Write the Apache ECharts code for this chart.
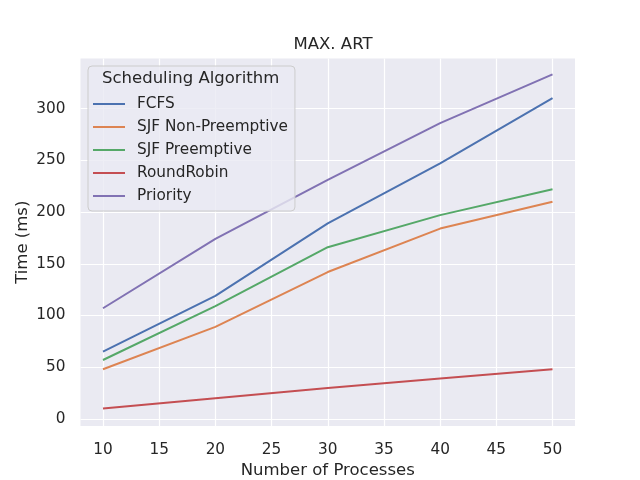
<!DOCTYPE html>
<html>
<head>
<meta charset="utf-8">
<title>MAX. ART</title>
<script src="https://cdn.jsdelivr.net/npm/echarts@6/dist/echarts.min.js"></script>
<style>
  html, body { margin: 0; padding: 0; background: #ffffff; }
  #chart { width: 640px; height: 480px; }
</style>
</head>
<body>
<div id="chart"></div>
<script>
// number of processes
var processes = [10, 20, 30, 40, 50];

// max average response time (ms) per algorithm
var fcfs = [65, 119, 189, 247, 310];
var sjfNonPreemptive = [48, 89, 142, 184, 210];
var sjfPreemptive = [57, 109, 166, 197, 222];
var roundRobin = [10, 20, 30, 39, 48];
var priority = [107, 174, 231, 286, 333];

var seriesNames = ['FCFS', 'SJF Non-Preemptive', 'SJF Preemptive', 'RoundRobin', 'Priority'];
var colors = ['#4C72B0', '#DD8452', '#55A868', '#C44E52', '#8172B3'];

var xTicks = [10, 15, 20, 25, 30, 35, 40, 45, 50];
var yTicks = [0, 50, 100, 150, 200, 250, 300];

function pairs(ys) {
    return processes.map(function (x, i) { return [x, ys[i]]; });
}

var font = 'DejaVu Sans';
var allData = [fcfs, sjfNonPreemptive, sjfPreemptive, roundRobin, priority];

var myChart = echarts.init(document.getElementById('chart'));
var option = {
    animation: false,
    color: colors,
    textStyle: { fontFamily: font },
    title: {
        text: 'MAX. ART',
        left: 328,
        top: 31,
        textAlign: 'center',
        textStyle: { fontFamily: font, fontSize: 16.5, fontWeight: 'normal', color: '#262626' }
    },
    grid: {
        left: 80.5, right: 65, top: 58.5, bottom: 54,
        containLabel: false,
        outerBoundsMode: 'none',
        show: true, backgroundColor: '#EAEAF2', borderWidth: 0
    },
    legend: {
        orient: 'vertical',
        left: 88,
        top: 66,
        padding: [30, 7, 7, 5],
        backgroundColor: 'rgba(234,234,242,0.8)',
        borderColor: '#cccccc',
        borderWidth: 1,
        borderRadius: 4,
        icon: 'rect',
        itemWidth: 32,
        itemHeight: 2,
        itemGap: 7,
        textStyle: { fontFamily: font, fontSize: 15.3, color: '#262626', lineHeight: 16, padding: [0, 0, 0, 7] },
        data: seriesNames
    },
    graphic: [{
        type: 'text',
        left: 102,
        top: 70,
        z: 100,
        style: { text: 'Scheduling Algorithm', font: '16.5px "DejaVu Sans"', fill: '#262626' }
    }],
    xAxis: {
        type: 'value',
        min: 8,
        max: 52,
        name: 'Number of Processes',
        nameLocation: 'middle',
        nameGap: 36,
        nameMoveOverlap: false,
        nameTextStyle: { fontFamily: font, fontSize: 16.5, color: '#262626' },
        axisLine: { show: false },
        axisTick: { show: false, customValues: xTicks },
        axisLabel: { customValues: xTicks, fontSize: 15.3, color: '#262626', margin: 17 },
        splitLine: { show: true, lineStyle: { color: '#ffffff', width: 1.2 } }
    },
    yAxis: {
        type: 'value',
        min: -6.8,
        max: 348.4,
        name: 'Time (ms)',
        nameLocation: 'middle',
        nameGap: 49,
        nameMoveOverlap: false,
        nameTextStyle: { fontFamily: font, fontSize: 16.5, color: '#262626' },
        axisLine: { show: false },
        axisTick: { show: false, customValues: yTicks },
        axisLabel: { customValues: yTicks, fontSize: 15.3, color: '#262626', margin: 15 },
        splitLine: { show: true, lineStyle: { color: '#ffffff', width: 1.2 } }
    },
    series: seriesNames.map(function (name, i) {
        return {
            name: name,
            type: 'line',
            data: pairs(allData[i]),
            showSymbol: false,
            lineStyle: { width: 2 }
        };
    })
};
myChart.setOption(option);
</script>
</body>
</html>
